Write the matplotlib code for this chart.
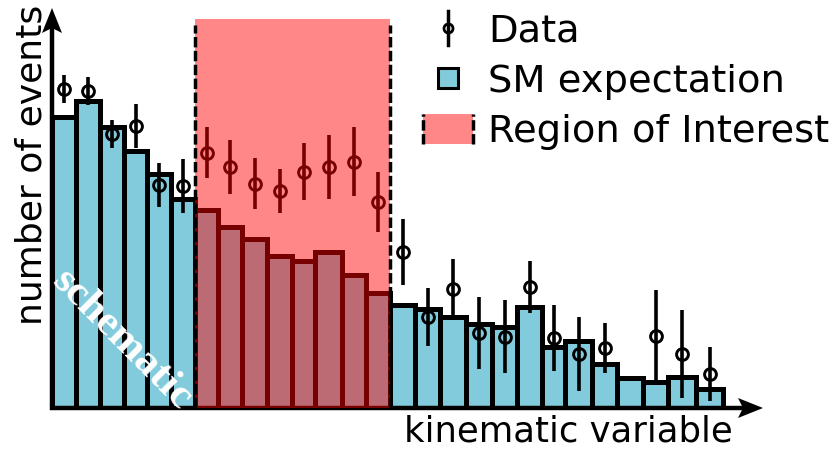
import numpy as np
import matplotlib
matplotlib.use("Agg")
import matplotlib.pyplot as plt
from matplotlib.legend_handler import HandlerBase
from matplotlib.lines import Line2D
from matplotlib.patches import Rectangle, Polygon
from matplotlib.transforms import ScaledTranslation

# histogram binning of the kinematic variable (arbitrary units)
edges = [0.0, 2.4, 4.8, 7.2, 9.5, 11.9, 14.3, 16.6, 19.0, 21.5, 24.0, 26.3, 29.0,
         31.4, 33.8, 36.3, 38.8, 41.4, 44.0, 46.5, 49.0, 51.3, 54.0, 56.5, 59.1,
         61.6, 64.4, 67.1]

# SM expectation per bin
sm_counts = [97.0, 102.3, 93.7, 85.7, 78.0, 69.7, 66.0, 60.3, 56.3, 50.7, 49.0,
             52.0, 44.3, 38.3, 34.3, 33.0, 30.3, 28.0, 27.0, 33.7, 20.3, 22.3,
             14.7, 10.0, 8.7, 10.3, 6.3]

# observed data and uncertainties (no entry in one bin)
data_counts = [106.3, 105.7, 91.3, 94.0, 74.3, 74.0, 85.0, 80.3, 74.7, 72.3, 78.7,
               80.3, 82.0, 68.7, 52.0, 30.3, 39.7, 25.0, 23.7, 40.3, 23.3, 18.0,
               20.0, np.nan, 24.0, 18.0, 11.3]
data_err = [4.8, 4.7, 4.7, 7.2, 7.3, 9.0, 8.5, 9.0, 8.5, 7.3, 9.5, 10.8, 11.5,
            10.0, 11.0, 9.7, 10.0, 12.0, 12.2, 8.7, 11.0, 12.2, 8.2, np.nan, 15.2,
            14.8, 9.0]

# region of interest: bins 6..13
roi_lo, roi_hi = edges[6], edges[14]
roi_top = 129.7
roi_line_top = 127.7

BLUE = '#82cbdc'
ROI_ALPHA = 0.47
DASH = (0, (3, 1))


class DataHandler(HandlerBase):
    def create_artists(self, legend, orig_handle, xdescent, ydescent,
                       width, height, fontsize, trans):
        x = 0.5 * width - xdescent
        bar = Line2D([x, x], [-ydescent - 0.08 * height, 1.08 * height - ydescent],
                     color='k', lw=2.5, transform=trans)
        dot = Line2D([x], [0.5 * height - ydescent], marker='o', ms=6.5,
                     mfc='none', mec='k', mew=2.0, transform=trans)
        return [bar, dot]


class SquareHandler(HandlerBase):
    def create_artists(self, legend, orig_handle, xdescent, ydescent,
                       width, height, fontsize, trans):
        s = 14.4
        x0 = 0.5 * width - xdescent - s / 2
        y0 = 0.5 * height - ydescent - s / 2
        return [Rectangle((x0, y0), s, s, fc=BLUE, ec='k', lw=2.2, transform=trans)]


class RegionHandler(HandlerBase):
    def create_artists(self, legend, orig_handle, xdescent, ydescent,
                       width, height, fontsize, trans):
        box = Rectangle((-xdescent, -ydescent), width, height, fc='red',
                        alpha=ROI_ALPHA, lw=0, transform=trans)
        left = Line2D([-xdescent] * 2, [-ydescent, height - ydescent], color='k',
                      lw=2.5, ls=DASH, transform=trans)
        right = Line2D([width - xdescent] * 2, [-ydescent, height - ydescent],
                       color='k', lw=2.5, ls=DASH, transform=trans)
        return [box, left, right]


def main():
    W, H = 838, 450
    fig = plt.figure(figsize=(W / 100, H / 100), dpi=100)
    ax = fig.add_axes([52 / W, 42 / H, 711 / W, 400 / H])
    ax.set_xlim(0, 71.1)
    ax.set_ylim(0, 133.3)
    ax.set_axis_off()

    centers = [(a + b) / 2 for a, b in zip(edges[:-1], edges[1:])]
    widths = np.diff(edges)

    bars = ax.bar(edges[:-1], sm_counts, width=widths, align='edge', color=BLUE,
                  edgecolor='k', linewidth=3.6, zorder=2)
    eb = ax.errorbar(centers, data_counts, yerr=data_err, fmt='o', mfc='none',
                     mec='k', ms=8.5, mew=2.1, ecolor='k', elinewidth=2.6,
                     capsize=0, zorder=3)

    # axes with arrow heads
    ax.plot([0, 0, 1 - 17 / 711], [1 - 17 / 400, 0, 0], transform=ax.transAxes,
            color='k', lw=3.2, solid_joinstyle='miter', clip_on=False, zorder=3.5)
    head_up = [(0, 0), (-0.1, -0.25), (0, -0.2), (0.1, -0.25)]
    head_right = [(0, 0), (-0.25, 0.1), (-0.2, 0), (-0.25, -0.1)]
    for verts, (tx, ty) in [(head_up, (0, 1)), (head_right, (1, 0))]:
        tr = fig.dpi_scale_trans + ScaledTranslation(tx, ty, ax.transAxes)
        ax.add_patch(Polygon(verts, closed=True, fc='k', ec='none', transform=tr,
                             clip_on=False, zorder=3.5))

    # region of interest
    roi = Rectangle((roi_lo, 0), roi_hi - roi_lo, roi_top, fc='red',
                    alpha=ROI_ALPHA, lw=0, zorder=4)
    ax.add_patch(roi)
    ax.vlines([roi_lo, roi_hi], 0, roi_line_top, colors='k', linestyles=DASH,
              lw=2.5, zorder=5)

    fig.text(15 / W, 1 - 5 / H, 'number of events', rotation=90, ha='left',
             va='top', fontsize=26)
    fig.text(733 / W, 8 / H, 'kinematic variable', ha='right', va='baseline',
             fontsize=25.5)
    fig.text(122 / W, 1 - 340 / H, 'schematic', rotation=-45, ha='center',
             va='center', color='white', fontsize=31, fontweight='bold',
             family='Liberation Serif', zorder=6)

    ax.legend([eb, bars, roi], ['Data', 'SM expectation', 'Region of Interest'],
              handler_map={eb: DataHandler(), bars: SquareHandler(),
                           roi: RegionHandler()},
              fontsize=27.7, frameon=False, handlelength=1.3, handleheight=0.8,
              handletextpad=0.39, labelspacing=0.38, borderpad=0,
              borderaxespad=0, loc='upper left',
              bbox_to_anchor=(423 / W, 1 - 13 / H),
              bbox_transform=fig.transFigure)

    fig.savefig('out.png', dpi=100)


if __name__ == '__main__':
    main()
